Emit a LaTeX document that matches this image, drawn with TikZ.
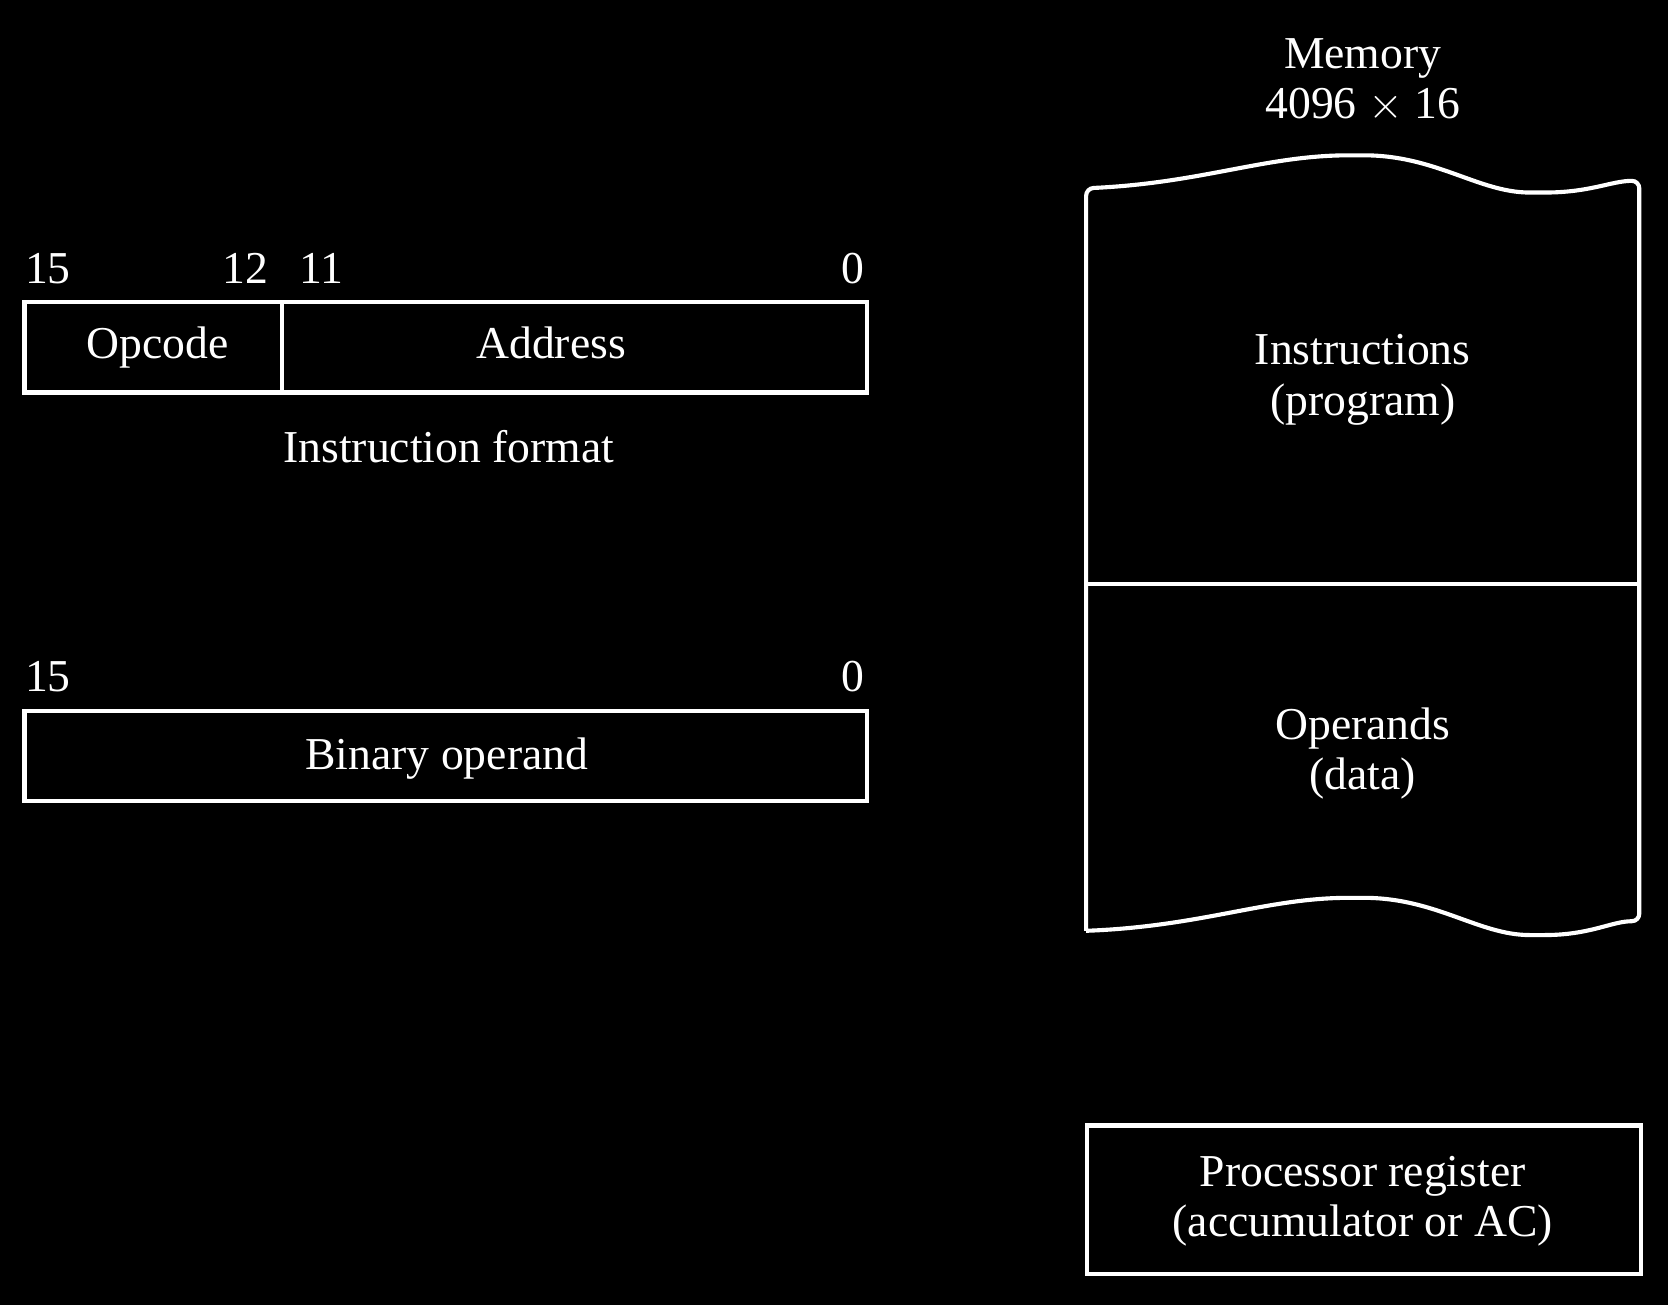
\documentclass[tikz,border=0pt]{standalone}
\usepackage{fontspec}
\setmainfont{Liberation Serif}
\usetikzlibrary{positioning}

\tikzset{
  wire/.style={draw=white, line width=1.1pt},
  txt/.style={text=white, font=\fontsize{12.2}{14}\selectfont, inner sep=0pt,
    text height=8.4pt, text depth=2.6pt},
  twoline/.style={text=white, inner sep=0pt, align=center,
    font=\fontsize{12.2}{13.4}\selectfont}
}

\begin{document}
\begin{tikzpicture}[x=0.01cm, y=-0.01cm]
      % tlo
      \fill[black] (0,0) rectangle (1568,1227);
      \useasboundingbox (0,0) rectangle (1568,1227);

      % Format instrukcji
      \begin{scope}[local bounding box=instr]
        \draw [wire] (23,284) rectangle (815,369);
        \draw [wire] (265,284) -- (265,369);
        \node[txt] (b15) at (45,256) {15};
        \node[txt] (b12) at (231,256) {12};
        \node[txt] (b11) at (302,256) {11};
        \node[txt] (b0) at (802,256) {0};
        \node[txt] (opcode) at (148,327) {Opcode};
        \node[txt] (address) at (518,327) {Address};
        \node[txt] (fmt) at (422,425) {Instruction format};
      \end{scope}

      % Operand
      \begin{scope}[local bounding box=oper]
        \draw [wire] (23,668) rectangle (815,753);
        \node[txt] (o15) at (45,640) {15};
        \node[txt] (o0) at (802,640) {0};
        \node[txt] (binop) at (420,713) {Binary operand};
      \end{scope}

      % Pamiec
      \begin{scope}[local bounding box=mem]
        \node[twoline] (memtitle) at (1281,76) {Memory\\4096 $\times$ 16};
        \draw [wire, rounded corners=2pt] (1021,875) -- (1021,177)
          .. controls (1130,172) and (1190,146) .. (1275,146)
          .. controls (1350,146) and (1390,181) .. (1445,181)
          .. controls (1495,181) and (1515,170) .. (1541,170)
          -- (1541,866)
          .. controls (1515,866) and (1495,879) .. (1445,879)
          .. controls (1390,879) and (1350,844) .. (1275,844)
          .. controls (1190,844) and (1130,871) .. (1021,875);
        \draw [wire] (1021,549) -- (1541,549);
        \node[twoline] (prog) at (1281,357) {Instructions\\(program)};
        \node[twoline] (data) at (1281,708) {Operands\\(data)};
      \end{scope}

      % Rejestr
      \draw [wire] (1022,1058) rectangle (1543,1198);
      \node[twoline] (acc) at (1281,1129) {Processor register\\(accumulator or AC)};
\end{tikzpicture}
\end{document}
